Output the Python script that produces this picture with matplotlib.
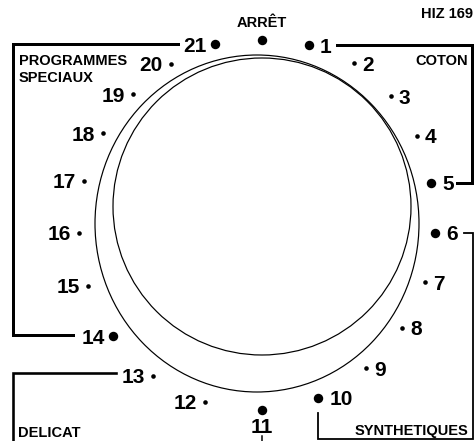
import numpy as np
import matplotlib
matplotlib.use("Agg")
import matplotlib.pyplot as plt
from matplotlib.patches import Ellipse

# dial settings, clockwise from the top
settings = ["ARRÊT", "1", "2", "3", "4", "5", "6", "7", "8", "9", "10",
            "11", "12", "13", "14", "15", "16", "17", "18", "19", "20", "21"]
big_dot = [1, 1, 0, 0, 0, 1, 1, 0, 0, 0, 1,
           1, 0, 0, 1, 0, 0, 0, 0, 0, 0, 1]
# angle (deg, counter-clockwise from 3 o'clock) and distance of each mark from the dial centre
dial_angle = [90, 75.4, 60.4, 45.0, 29.9, 14.0, -2.6, -19.3, -36.3, -54.0, -72.0,
              -90, -107.9, -125.8, -143.3, -160.7, -177.5, 166.1, 150.0, 134.6, 119.5, 104.6]
dial_radius = [185, 186, 186.3, 182.4, 178.7, 174.1, 173.2, 172.7, 173.8, 176.8, 181.8,
               185, 186, 186, 185.8, 184.4, 183.2, 183.4, 183.7, 183.9, 185, 187]

group_names = ["PROGRAMMES", "SPECIAUX", "COTON", "SYNTHETIQUES", "DELICAT"]
model_name = "HIZ 169"


def px(v):
    # pixels -> points at 100 dpi
    return v * 72 / 100


def main():
    plt.rcParams['font.family'] = ['Liberation Sans', 'DejaVu Sans']
    plt.rcParams['font.weight'] = 'bold'

    fig = plt.figure(figsize=(4.77, 4.41), dpi=100)
    ax = fig.add_axes([0, 0, 1, 1])
    ax.set_xlim(0, 477)
    ax.set_ylim(441, 0)
    ax.axis('off')

    # knob rings
    ax.add_patch(Ellipse((257, 223.5), 324, 337, fill=False, lw=px(1.2), color='black'))
    ax.add_patch(Ellipse((262, 206.5), 298, 297, fill=False, lw=px(1.2), color='black'))

    cx, cy = 262, 225
    ang = np.radians(dial_angle)
    xs = cx + np.array(dial_radius) * np.cos(ang)
    ys = cy - np.array(dial_radius) * np.sin(ang)

    for i, name in enumerate(settings):
        x, y = xs[i], ys[i]
        ms = 6.8 if big_dot[i] else 3.3
        ax.plot(x, y, 'o', color='black', ms=ms, mec='none')
        if i == 0:
            ax.text(x, y - 13, name, ha='center', va='baseline', fontsize=10.5)
        elif i == 11:
            ax.text(x, y + 23, name, ha='center', va='baseline', fontsize=15)
        elif x > cx:
            ax.text(x + (11 if big_dot[i] else 8), y + 7.5, name,
                    ha='left', va='baseline', fontsize=15)
        else:
            ax.text(x - 8, y + 7.5, name, ha='right', va='baseline', fontsize=15)

    # group brackets
    ax.plot([178, 13, 13, 73], [44, 44, 335, 335], color='black', lw=px(3), solid_joinstyle='miter')
    ax.plot([337, 472, 472, 457], [45, 45, 183, 183], color='black', lw=px(3), solid_joinstyle='miter')
    ax.plot([464, 473, 473, 318, 318], [233, 233, 438.5, 438.5, 413], color='black', lw=px(1.8),
            solid_joinstyle='miter')
    ax.plot([116, 13, 13], [373, 373, 442], color='black', lw=px(2.6), solid_joinstyle='miter')
    ax.plot([262, 262], [436, 442], color='black', lw=px(1.5))

    ax.text(19, 65, group_names[0], ha='left', va='baseline', fontsize=10.5)
    ax.text(19, 82, group_names[1], ha='left', va='baseline', fontsize=10.5)
    ax.text(468, 65, group_names[2], ha='right', va='baseline', fontsize=10.5)
    ax.text(468, 435, group_names[3], ha='right', va='baseline', fontsize=10.5)
    ax.text(18, 437, group_names[4], ha='left', va='baseline', fontsize=10.5)
    ax.text(473, 18, model_name, ha='right', va='baseline', fontsize=10.5)

    fig.savefig("out.png", dpi=100)


if __name__ == "__main__":
    main()
